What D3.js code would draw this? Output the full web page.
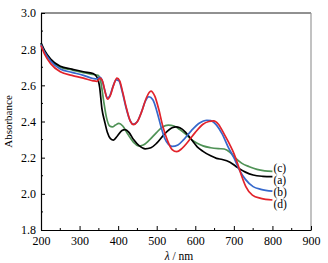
<!DOCTYPE html>
<html>
<head>
<meta charset="utf-8">
<script src="https://cdn.jsdelivr.net/npm/d3@7"></script>
<style>
  body { margin: 0; background: #fff; }
  svg text { font-family: "Liberation Serif", "DejaVu Serif", serif; }
</style>
</head>
<body>
<div id="chart-area"></div>
<script>
// sample (a), black
var wlA = [200,210,225,250,280,310,335,345,352,358,365,372,380,388,398,410,418,428,440,455,470,485,500,520,540,550,560,575,590,605,620,640,655,670,690,710,730,750,775,800];
var absA = [2.835,2.79,2.745,2.705,2.69,2.675,2.665,2.645,2.59,2.47,2.40,2.34,2.305,2.297,2.32,2.35,2.355,2.34,2.30,2.265,2.249,2.255,2.28,2.33,2.365,2.37,2.365,2.34,2.30,2.26,2.235,2.21,2.196,2.19,2.175,2.145,2.12,2.104,2.097,2.095];

// sample (b), blue
var wlB = [200,210,225,250,280,310,335,345,352,358,365,372,378,386,395,402,410,420,430,438,448,460,470,480,490,500,510,520,530,540,555,570,590,610,630,640,655,670,685,700,715,730,750,770,800];
var absB = [2.825,2.78,2.735,2.69,2.672,2.655,2.638,2.635,2.645,2.63,2.575,2.53,2.54,2.59,2.63,2.625,2.57,2.48,2.41,2.385,2.395,2.45,2.51,2.537,2.52,2.46,2.38,2.31,2.275,2.262,2.27,2.30,2.35,2.39,2.407,2.405,2.38,2.33,2.26,2.20,2.13,2.08,2.04,2.025,2.015];

// sample (c), green
var wlC = [200,210,225,250,280,310,335,348,355,362,370,378,385,393,402,412,425,440,452,465,480,500,515,530,545,560,575,590,605,620,640,660,675,690,705,720,740,760,780,800];
var absC = [2.83,2.785,2.74,2.70,2.685,2.67,2.66,2.655,2.62,2.52,2.42,2.375,2.37,2.38,2.39,2.375,2.33,2.285,2.265,2.27,2.295,2.34,2.37,2.38,2.375,2.355,2.33,2.30,2.28,2.265,2.255,2.25,2.248,2.23,2.196,2.17,2.15,2.135,2.127,2.124];

// sample (d), red
var wlD = [200,210,225,250,280,310,335,345,353,360,366,373,380,388,397,404,412,422,432,440,450,462,473,485,495,505,515,527,540,552,565,580,600,620,635,648,660,675,690,700,710,720,731,748,770,800];
var absD = [2.82,2.77,2.72,2.675,2.655,2.64,2.625,2.622,2.64,2.62,2.565,2.523,2.545,2.60,2.64,2.625,2.56,2.47,2.40,2.383,2.40,2.46,2.53,2.568,2.54,2.47,2.38,2.30,2.245,2.233,2.25,2.285,2.34,2.385,2.40,2.404,2.385,2.33,2.27,2.224,2.165,2.10,2.04,1.993,1.975,1.966];

var seriesNames = ["(a)", "(b)", "(c)", "(d)"];
var seriesColors = ["#000000", "#3568cc", "#4f9256", "#e2232b"];
// where each curve label sits, in absorbance units at 800 nm
var labelAbs = [2.078, 2.01, 2.144, 1.945];

var xTicks = [200,300,400,500,600,700,800,900];
var yTicks = [1.8,2.0,2.2,2.4,2.6,2.8,3.0];

var margin = { left: 41, right: 17, top: 13, bottom: 33 };
var width = 328 - margin.left - margin.right;
var height = 263 - margin.top - margin.bottom;

var svg = d3.select("#chart-area").append("svg")
    .attr("width", 328)
    .attr("height", 263);

var g = svg.append("g")
    .attr("transform", "translate(" + margin.left + ", " + margin.top + ")");

var x = d3.scaleLinear().domain([200, 900]).range([0, width]);
var y = d3.scaleLinear().domain([1.8, 3.0]).range([height, 0]);

// frame: top black, right grey
g.append("line").attr("x1", 0).attr("x2", width).attr("y1", 0).attr("y2", 0)
    .attr("stroke", "#222").attr("stroke-width", 1);
g.append("line").attr("x1", width).attr("x2", width).attr("y1", 0).attr("y2", height)
    .attr("stroke", "#999").attr("stroke-width", 1.2);

// minor ticks
var xMinor = d3.range(250, 900, 100);
var yMinor = d3.range(1.9, 3.0, 0.2);
g.selectAll(".xminor").data(xMinor).enter().append("line")
    .attr("x1", (d) => x(d)).attr("x2", (d) => x(d))
    .attr("y1", height).attr("y2", height - 2)
    .attr("stroke", "#000");
g.selectAll(".yminor").data(yMinor).enter().append("line")
    .attr("x1", 0).attr("x2", 2)
    .attr("y1", (d) => y(d)).attr("y2", (d) => y(d))
    .attr("stroke", "#000");

// x Axis
var xAxisCall = d3.axisBottom(x)
    .tickValues(xTicks)
    .tickSizeInner(-4)
    .tickSizeOuter(0)
    .tickPadding(6)
    .tickFormat(d3.format("d"));
var xAxis = g.append("g")
    .attr("transform", "translate(0, " + height + ")")
    .call(xAxisCall);

// y Axis
var yAxisCall = d3.axisLeft(y)
    .tickValues(yTicks)
    .tickSizeInner(-4)
    .tickSizeOuter(0)
    .tickPadding(5)
    .tickFormat(d3.format(".1f"));
var yAxis = g.append("g").call(yAxisCall);

[xAxis, yAxis].forEach((a) => {
    a.select(".domain").attr("stroke", "#000").attr("stroke-width", 1.2);
    a.selectAll(".tick line").attr("stroke", "#000");
    a.selectAll("text")
        .attr("fill", "#000")
        .style("font-family", "'Liberation Serif', serif")
        .style("font-size", "12px");
});

// curves
var line = d3.line()
    .x((d) => x(d[0]))
    .y((d) => y(d[1]))
    .curve(d3.curveMonotoneX);

var allSeries = [
    d3.zip(wlA, absA),
    d3.zip(wlB, absB),
    d3.zip(wlC, absC),
    d3.zip(wlD, absD)
];
var drawOrder = [2, 0, 1, 3];
drawOrder.forEach((i) => {
    g.append("path")
        .datum(allSeries[i])
        .attr("fill", "none")
        .attr("stroke", seriesColors[i])
        .attr("stroke-width", 1.7)
        .attr("d", line);
});

// curve labels
seriesNames.forEach((name, i) => {
    g.append("text")
        .attr("x", x(800) + 1)
        .attr("y", y(labelAbs[i]))
        .attr("dy", "0.35em")
        .style("font-size", "11.5px")
        .text(name);
});

// x Label
var xl = g.append("text")
    .attr("x", width / 2 + 3)
    .attr("y", height + 30)
    .attr("text-anchor", "middle")
    .style("font-size", "11.5px");
xl.append("tspan").style("font-style", "italic").text("λ");
xl.append("tspan").text(" / nm");

// y Label
g.append("text")
    .attr("x", -(height / 2))
    .attr("y", -29)
    .attr("text-anchor", "middle")
    .attr("transform", "rotate(-90)")
    .style("font-size", "11px")
    .text("Absorbance");
</script>
</body>
</html>
